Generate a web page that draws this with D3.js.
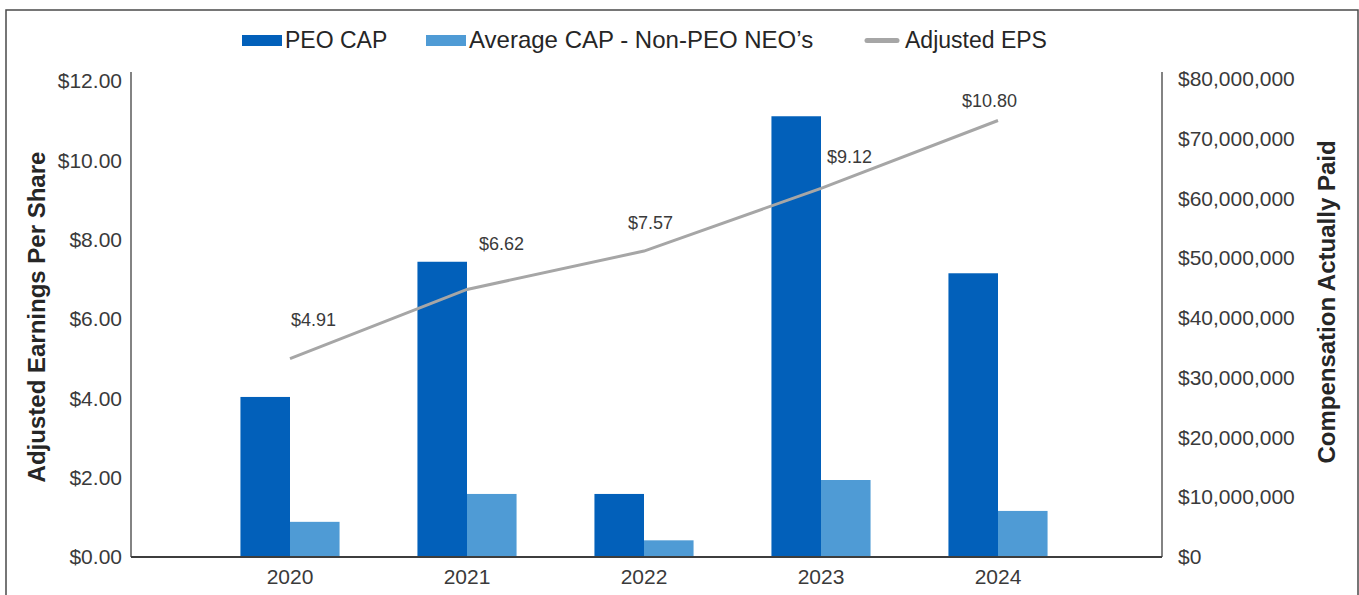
<!DOCTYPE html>
<html>
<head>
<meta charset="utf-8">
<script src="https://cdn.jsdelivr.net/npm/d3@7"></script>
<style>
  html, body { margin: 0; padding: 0; background: #fff; }
  svg { display: block; font-family: "Liberation Sans", Arial, sans-serif; }
</style>
</head>
<body>
<div id="chart"></div>
<script>
// chart data
const years = ['2020', '2021', '2022', '2023', '2024'];
const peoCap = [26.4e6, 48.7e6, 10.4e6, 72.7e6, 46.8e6];
const avgCap = [5.8e6, 10.4e6, 2.75e6, 12.7e6, 7.6e6];
const adjEps = [4.91, 6.62, 7.57, 9.12, 10.8];
const epsTicks = [0, 2, 4, 6, 8, 10, 12];
const capTicks = [0, 10e6, 20e6, 30e6, 40e6, 50e6, 60e6, 70e6, 80e6];
const seriesNames = ['PEO CAP', 'Average CAP - Non-PEO NEO\u2019s', 'Adjusted EPS'];

// label nudges for the EPS data labels (dx, dy from the point)
const labelOffsets = [[1, -39], [12, -46], [-16, -28], [6, -32], [-36, -20]];

const W = 1359, H = 595;
const colors = { peo: '#0260BA', avg: '#4F9BD5', eps: '#A6A6A6', text: '#3a3a3a' };

const plot = { left: 131, right: 1162, top: 72, bottom: 557 };

const svg = d3.select('#chart').append('svg')
  .attr('width', W)
  .attr('height', H);

svg.append('rect').attr('width', W).attr('height', H).attr('fill', '#fff');

// outer frame (bottom edge runs off the picture)
svg.append('path')
  .attr('d', `M6,${H + 5} V10 H1358 V${H + 5}`)
  .attr('fill', 'none')
  .attr('stroke', '#4a4a4a')
  .attr('stroke-width', 1.5);

// scales
const x = d3.scaleBand()
  .domain(years)
  .range([plot.left + 70.5, plot.right - 75.5])
  .paddingInner(0.44)
  .paddingOuter(0.22);

const xSub = d3.scaleBand()
  .domain(['peo', 'avg'])
  .range([0, x.bandwidth()]);

const yEps = d3.scaleLinear().domain([0, 12]).range([plot.bottom, plot.top]);
const yCap = d3.scaleLinear().domain([0, 80e6]).range([plot.bottom, plot.top]);

// tick labels sit a little lower than the plotted scale in the original
const yEpsLabel = d3.scaleLinear().domain([0, 12]).range([plot.bottom, 81]);
const yCapLabel = d3.scaleLinear().domain([0, 80e6]).range([plot.bottom, 79]);

// bars
const barData = years.map((yr, i) => ({ year: yr, peo: peoCap[i], avg: avgCap[i] }));

const groups = svg.append('g').selectAll('g')
  .data(barData)
  .join('g')
  .attr('transform', d => `translate(${x(d.year)},0)`);

groups.selectAll('rect')
  .data(d => [{ key: 'peo', v: d.peo }, { key: 'avg', v: d.avg }])
  .join('rect')
  .attr('x', d => xSub(d.key))
  .attr('y', d => yCap(d.v))
  .attr('width', xSub.bandwidth())
  .attr('height', d => plot.bottom - yCap(d.v))
  .attr('fill', d => colors[d.key]);

// axes lines
svg.append('line')
  .attr('x1', plot.left).attr('x2', plot.left)
  .attr('y1', plot.top).attr('y2', plot.bottom)
  .attr('stroke', '#5a5a5a').attr('stroke-width', 1.5);
svg.append('line')
  .attr('x1', plot.right).attr('x2', plot.right)
  .attr('y1', plot.top).attr('y2', plot.bottom)
  .attr('stroke', '#5a5a5a').attr('stroke-width', 1.5);
svg.append('line')
  .attr('x1', plot.left).attr('x2', plot.right)
  .attr('y1', plot.bottom).attr('y2', plot.bottom)
  .attr('stroke', '#3d3d3d').attr('stroke-width', 2);

// left axis
const leftAxis = svg.append('g')
  .attr('transform', `translate(${plot.left},0)`)
  .call(d3.axisLeft(yEpsLabel).tickValues(epsTicks).tickSize(0).tickPadding(9)
    .tickFormat(d => '$' + d3.format('.2f')(d)));
leftAxis.select('.domain').remove();
leftAxis.selectAll('text')
  .attr('font-size', 21)
  .attr('font-family', '"Liberation Sans", Arial, sans-serif')
  .attr('fill', colors.text);

// right axis
const rightAxis = svg.append('g')
  .attr('transform', `translate(${plot.right},0)`)
  .call(d3.axisRight(yCapLabel).tickValues(capTicks).tickSize(0).tickPadding(16)
    .tickFormat(d => '$' + d3.format(',')(d)));
rightAxis.select('.domain').remove();
rightAxis.selectAll('text')
  .attr('font-size', 21)
  .attr('font-family', '"Liberation Sans", Arial, sans-serif')
  .attr('fill', colors.text);

// bottom axis
const bottomAxis = svg.append('g')
  .attr('transform', `translate(0,${plot.bottom})`)
  .call(d3.axisBottom(x).tickSize(0).tickPadding(12));
bottomAxis.select('.domain').remove();
bottomAxis.selectAll('text')
  .attr('font-size', 21)
  .attr('font-family', '"Liberation Sans", Arial, sans-serif')
  .attr('fill', colors.text);

// EPS line
const epsData = years.map((yr, i) => ({ year: yr, v: adjEps[i] }));
const cx = d => x(d.year) + x.bandwidth() / 2;

const line = d3.line()
  .x(cx)
  .y(d => yEps(d.v));

svg.append('path')
  .datum(epsData)
  .attr('d', line)
  .attr('fill', 'none')
  .attr('stroke', colors.eps)
  .attr('stroke-width', 3);

svg.append('g').selectAll('text')
  .data(epsData)
  .join('text')
  .attr('x', (d, i) => cx(d) + labelOffsets[i][0])
  .attr('y', (d, i) => yEps(d.v) + labelOffsets[i][1])
  .attr('dy', '0.35em')
  .attr('font-size', 18)
  .attr('fill', colors.text)
  .text(d => '$' + d3.format('.2f')(d.v));

// axis titles
svg.append('text')
  .attr('transform', 'translate(45,317) rotate(-90)')
  .attr('text-anchor', 'middle')
  .attr('font-size', 24)
  .attr('font-weight', 'bold')
  .attr('fill', '#262626')
  .text('Adjusted Earnings Per Share');

svg.append('text')
  .attr('transform', 'translate(1335,302) rotate(-90)')
  .attr('text-anchor', 'middle')
  .attr('font-size', 24)
  .attr('font-weight', 'bold')
  .attr('fill', '#262626')
  .text('Compensation Actually Paid');

// legend
const legendX = [242, 426, 865];
const legend = svg.append('g').selectAll('g')
  .data(seriesNames)
  .join('g')
  .attr('transform', (d, i) => `translate(${legendX[i]},0)`);

legend.filter((d, i) => i < 2).append('rect')
  .attr('x', 0).attr('y', 35)
  .attr('width', 40).attr('height', 11)
  .attr('fill', (d, i) => i === 0 ? colors.peo : colors.avg);

legend.filter((d, i) => i === 2).append('line')
  .attr('x1', 2).attr('x2', 32)
  .attr('y1', 40.5).attr('y2', 40.5)
  .attr('stroke', colors.eps)
  .attr('stroke-width', 5)
  .attr('stroke-linecap', 'round');

legend.append('text')
  .attr('x', (d, i) => i === 2 ? 40 : 43)
  .attr('y', 48)
  .attr('font-size', (d, i) => i === 1 ? 24 : 23)
  .attr('fill', '#262626')
  .text(d => d);
</script>
</body>
</html>
